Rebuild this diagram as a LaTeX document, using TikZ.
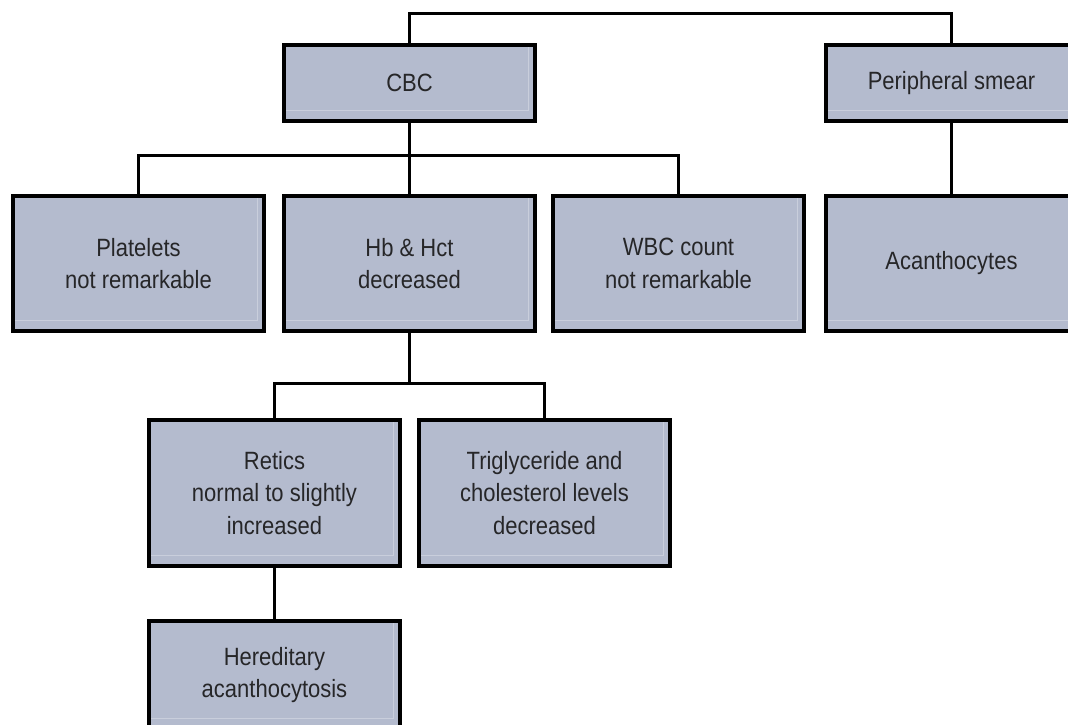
\documentclass[tikz,border=0pt]{standalone}
\usepackage{fontspec}
\setmainfont{Liberation Sans}[FakeStretch=0.88]
\usetikzlibrary{positioning}
\definecolor{boxfill}{RGB}{180,187,206}
\definecolor{boxtext}{RGB}{38,38,40}
\tikzset{testbox/.style={
    % The shape:
    rectangle,
    % The size:
    minimum width=251pt,
    minimum height=135pt,
    inner sep=0pt,
    % The border:
    line width=4pt,
    draw=black,
    % The filling:
    fill=boxfill,
    % a lighter edge just inside the border, bottom and right
    path picture={\draw[boxfill!72!white,line width=1pt]
        ([yshift=11pt]path picture bounding box.south west)
        -| ([xshift=-7pt]path picture bounding box.north east);},
    % Font
    text=boxtext,
    align=center,
    font=\fontsize{25}{32.5}\selectfont
    },
    headbox/.style={
    testbox,
    minimum height=76pt,
    },
    lowbox/.style={
    testbox,
    minimum height=146pt,
    },
    link/.style={
    line width=3pt,
    draw=black,
    },
}

\begin{document}
\begin{tikzpicture}[x=1pt,y=-1pt]
    \useasboundingbox[fill=white] (0,0) rectangle (1068,724);

    \node (cbc)   [headbox]                     at (409.5,83) {CBC};
    \node (smear) [headbox]                     at (951.5,83) {Peripheral smear};

    \node (hb)    [testbox,below=71pt of cbc]   {Hb \& Hct\\decreased};
    \node (plt)   [testbox,left=16pt of hb]     {Platelets\\not remarkable};
    \node (wbc)   [testbox,right=14pt of hb]    {WBC count\\not remarkable};
    \node (acan)  [testbox]                     at (smear |- hb) {Acanthocytes};

    \node (ret)   [lowbox,below=85pt of hb,xshift=-135pt] {Retics\\normal to slightly\\increased};
    \node (trig)  [lowbox,right=15pt of ret]    {Triglyceride and\\cholesterol levels\\decreased};
    \node (here)  [testbox,minimum height=108pt,below=51pt of ret] {Hereditary\\acanthocytosis};

    \draw[link] (cbc.north) -- ++(0pt,30pt) -| (smear.north);
    \draw[link] (cbc.south) -- (hb.north);
    \draw[link] (plt.north) -- ++(0pt,39pt) -| (wbc.north);
    \draw[link] (smear.south) -- (acan.north);
    \draw[link] (hb.south) -- ++(0pt,-50pt);
    \draw[link] (ret.north) -- ++(0pt,35pt) -| (trig.north);
    \draw[link] (ret.south) -- (here.north);
\end{tikzpicture}
\end{document}
